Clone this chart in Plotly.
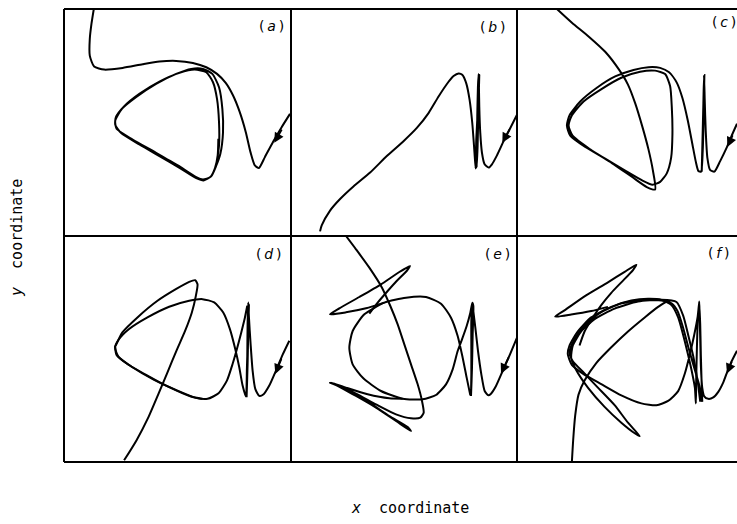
import plotly.graph_objects as go

# Digitised trajectories, one list of curve segments per panel.
# Units: x grows to the right, y grows downward, measured inside each panel frame.
PANEL_A = [
    [(690, 345), (665, 385), (640, 428), (615, 475), (597, 508), (585, 500), (572, 460), (558, 400),
     (540, 340), (520, 290), (498, 252), (472, 225), (440, 205), (400, 192), (350, 186), (300, 188),
     (250, 196), (190, 207), (135, 212), (105, 203), (92, 170), (92, 120), (97, 75), (104, 30)],
    [(470, 500), (478, 440), (478, 370), (472, 300), (460, 250), (440, 220), (405, 212), (360, 222),
     (300, 248), (240, 285), (195, 322), (170, 355), (168, 378), (185, 402), (240, 437), (300, 472),
     (360, 507), (410, 538), (432, 545), (455, 532), (470, 500), (482, 465), (490, 400), (488, 330),
     (478, 265), (458, 225), (430, 210), (395, 210), (350, 225), (290, 255), (230, 295), (188, 330),
     (168, 365), (172, 390), (220, 422), (290, 462), (355, 500), (410, 535), (430, 542), (452, 535),
     (466, 508), (474, 470), (476, 420)],
]

PANEL_B = [
    [(680, 345), (660, 385), (640, 425), (620, 468), (605, 495), (595, 505), (583, 495), (575, 460),
     (570, 400), (567, 320), (566, 260), (565, 222), (563, 260), (561, 350), (560, 440), (559, 505),
     (562, 440), (564, 340), (566, 240), (567, 225), (565, 300), (562, 400), (558, 500), (560, 430),
     (563, 330), (566, 230), (563, 320), (558, 420), (556, 508), (552, 450), (546, 370), (538, 300),
     (528, 250), (516, 224), (505, 220), (490, 228), (470, 252), (445, 290), (415, 340), (380, 385),
     (340, 425), (290, 470), (240, 520), (190, 562), (150, 600), (120, 635), (95, 680), (90, 698)],
]

PANEL_C = [
    [(666, 360), (650, 395), (635, 430), (615, 470), (598, 500), (585, 495), (577, 460), (572, 380),
     (569, 290), (567, 220), (565, 300), (562, 420), (560, 500), (563, 400), (566, 260), (568, 218),
     (566, 330), (563, 440), (558, 500), (550, 498), (542, 470), (532, 420), (518, 350), (502, 285),
     (485, 240), (462, 210), (435, 197), (400, 195), (355, 203), (300, 222), (245, 255), (195, 295),
     (163, 335), (155, 365), (165, 395), (210, 428), (270, 462), (330, 497), (380, 525), (412, 538),
     (435, 530), (455, 505), (468, 460), (472, 390), (470, 310), (465, 250), (450, 215), (420, 205),
     (375, 208), (320, 225), (260, 258), (205, 295), (170, 335), (160, 365), (172, 395), (225, 435),
     (290, 475), (350, 515), (395, 545), (420, 552), (413, 495), (400, 435), (382, 370), (360, 300),
     (338, 245), (310, 200), (270, 150), (220, 105), (170, 65), (125, 25)],
]

PANEL_D = [
    [(690, 320), (670, 362), (650, 410), (630, 455), (612, 482), (600, 486), (588, 465), (580, 410),
     (574, 330), (569, 250), (567, 205), (565, 270), (564, 370), (562, 490), (565, 390), (567, 290),
     (569, 210), (566, 300), (563, 400), (560, 488), (550, 455), (540, 400), (528, 345), (512, 285),
     (492, 235), (465, 205), (430, 195), (390, 200), (330, 218), (265, 250), (210, 285), (178, 318),
     (168, 340), (178, 368), (220, 400), (285, 438), (350, 468), (410, 492), (445, 495), (478, 478),
     (503, 440), (520, 390), (533, 345), (546, 295), (557, 250), (564, 215)],
    [(168, 335), (172, 362), (205, 390), (265, 425), (330, 460), (395, 488), (430, 495)],
    [(170, 335), (190, 295), (235, 250), (295, 200), (350, 165), (390, 143), (408, 138), (415, 150),
     (410, 185), (398, 235), (378, 290), (352, 350), (325, 415), (298, 480), (268, 550), (232, 620),
     (195, 680)],
]

PANEL_E = [
    [(683, 310), (662, 360), (640, 410), (620, 455), (605, 478), (597, 483), (586, 470), (576, 420),
     (566, 350), (558, 280), (552, 230), (549, 205), (546, 260), (546, 340), (546, 420), (545, 485),
     (548, 400), (550, 300), (552, 215), (549, 205), (543, 235), (532, 275), (518, 315), (505, 350),
     (490, 405), (470, 450), (440, 482), (400, 495), (340, 493), (275, 470), (222, 432), (190, 390),
     (180, 340), (190, 290), (225, 240), (285, 205), (350, 190), (410, 188), (455, 208), (485, 250),
     (505, 305), (520, 370), (532, 430), (543, 483)],
    [(285, 205), (230, 222), (170, 234), (122, 240), (150, 222), (210, 188), (275, 150), (330, 113),
     (362, 95), (352, 110), (322, 140), (295, 170), (265, 205), (240, 238)],
    [(170, 5), (200, 45), (240, 100), (278, 160), (303, 215), (325, 270), (345, 330), (365, 390),
     (385, 450), (398, 500), (403, 535), (393, 550), (365, 552), (320, 540), (260, 510), (200, 478),
     (150, 455), (122, 445), (140, 452), (200, 485), (260, 520), (320, 560), (365, 590), (355, 578),
     (300, 545), (240, 505), (180, 470), (125, 445), (170, 460), (235, 480), (300, 492), (340, 493)],
]

PANEL_F = [
    [(666, 335), (650, 365), (638, 392), (625, 425), (610, 452), (595, 468), (580, 472), (568, 465),
     (562, 440), (558, 380), (556, 300), (554, 230), (553, 195), (549, 240), (546, 330), (544, 420),
     (543, 485), (540, 440), (530, 390), (518, 340), (505, 290), (490, 240), (470, 205), (440, 190),
     (400, 187), (350, 192), (290, 210), (230, 240), (190, 280), (165, 320), (160, 345), (172, 375),
     (205, 400), (260, 430), (320, 462), (380, 485), (425, 490), (460, 478), (490, 450), (510, 400),
     (525, 345), (538, 290), (548, 240), (553, 200), (556, 260), (558, 350), (560, 420), (562, 480)],
    [(562, 480), (555, 440), (540, 390), (522, 330), (505, 270), (488, 222), (470, 200), (440, 192),
     (390, 190), (320, 200), (260, 225), (210, 262), (178, 305), (165, 340), (175, 365), (205, 395),
     (250, 440), (300, 490), (340, 540), (375, 578), (360, 570), (320, 540), (270, 495), (220, 440),
     (185, 390), (170, 355), (175, 320), (200, 280), (240, 245), (300, 215), (370, 195), (440, 190),
     (485, 196), (505, 235), (520, 290), (535, 350), (548, 420), (556, 480)],
    [(280, 210), (230, 222), (170, 232), (122, 238), (150, 220), (210, 180), (280, 140), (330, 110),
     (365, 90), (355, 105), (320, 140), (290, 170), (260, 205), (235, 240), (210, 280), (195, 320)],
    [(172, 655), (176, 590), (182, 520), (192, 460), (210, 420), (245, 370), (290, 325), (340, 280),
     (390, 240), (430, 210), (455, 195)],
]

PANELS = [PANEL_A, PANEL_B, PANEL_C, PANEL_D, PANEL_E, PANEL_F]
PANEL_LABELS = ["a", "b", "c", "d", "e", "f"]

# Direction arrows on the incoming branch: (tip, tail) in panel units
ARROWS = [
    ((643, 432), (668, 388)),
    ((636, 430), (660, 385)),
    ((637, 428), (655, 390)),
    ((648, 420), (668, 370)),
    ((635, 418), (660, 365)),
    ((636, 400), (652, 362)),
]

# Visible window of each panel, in panel units: (x_left, x_right, y_top, y_bottom)
WINDOWS = [
    (15, 693, 30, 712),
    (3, 680, 25, 712),
    (5, 666, 25, 688),
    (15, 695, 5, 685),
    (5, 683, 5, 683),
    (8, 666, 8, 652),
]

W, H = 737, 524
L, R, T, B = 64, 0, 9, 62
PW, PH = W - L - R, H - T - B
col_edges = [0.0, (291 - L) / PW, (517 - L) / PW, 1.0]
row_mid = (462 - 236) / PH
row_domains = [(row_mid, 1.0), (0.0, row_mid)]

fig = go.Figure()
annotations = []

for i, segs in enumerate(PANELS):
    n = "" if i == 0 else str(i + 1)
    r, c = divmod(i, 3)
    xs, ys = [], []
    for seg in segs:
        xs += [p[0] for p in seg] + [None]
        ys += [p[1] for p in seg] + [None]
    fig.add_trace(go.Scatter(
        x=xs, y=ys, mode="lines",
        line=dict(color="black", width=2.0, shape="spline", smoothing=0.6),
        xaxis="x" + n, yaxis="y" + n, hoverinfo="skip", showlegend=False,
    ))
    x0, x1, y0, y1 = WINDOWS[i]
    fig.layout["xaxis" + n] = dict(domain=[col_edges[c], col_edges[c + 1]], range=[x0, x1],
                                   visible=False, fixedrange=True, anchor="y" + n)
    fig.layout["yaxis" + n] = dict(domain=list(row_domains[r]), range=[y1, y0],
                                   visible=False, fixedrange=True, anchor="x" + n)
    (tx, ty), (ax, ay) = ARROWS[i]
    annotations.append(dict(
        x=tx, y=ty, ax=ax, ay=ay, xref="x" + n, yref="y" + n, axref="x" + n, ayref="y" + n,
        showarrow=True, arrowhead=2, arrowsize=1.1, arrowwidth=1.8, arrowcolor="black",
        standoff=0, text="",
    ))

# Panel letters, placed near each panel's upper-right corner (pixel positions)
label_pos = [(271, 26), (493, 27), (724, 22), (268, 254), (497, 254), (718, 253)]
for (px, py), lab in zip(label_pos, PANEL_LABELS):
    annotations.append(dict(
        x=(px - L) / PW, y=(H - B - py) / PH, xref="paper", yref="paper",
        text="(\u2009<i>%s</i>\u2009)" % lab, showarrow=False,
        font=dict(family="DejaVu Sans", size=14, color="black"),
        xanchor="center", yanchor="middle",
    ))

# Axis captions
annotations.append(dict(
    x=(410 - L) / PW, y=(H - B - 508) / PH, xref="paper", yref="paper",
    text="<i>x</i>\u00a0\u00a0coordinate", showarrow=False,
    font=dict(family="DejaVu Sans Mono", size=15, color="black"),
    xanchor="center", yanchor="middle",
))
annotations.append(dict(
    x=(17 - L) / PW, y=(H - B - 238) / PH, xref="paper", yref="paper",
    text="<i>y</i>\u00a0\u00a0coordinate", showarrow=False, textangle=-90,
    font=dict(family="DejaVu Sans Mono", size=15, color="black"),
    xanchor="center", yanchor="middle",
))

# Panel frame lines (right edge falls outside the page)
frame = dict(color="black", width=2)
shapes = [
    dict(type="line", xref="paper", yref="paper", x0=0, x1=1.02, y0=1, y1=1, line=frame),
    dict(type="line", xref="paper", yref="paper", x0=0, x1=1.02, y0=0, y1=0, line=frame),
    dict(type="line", xref="paper", yref="paper", x0=0, x1=1.02, y0=row_mid, y1=row_mid, line=frame),
    dict(type="line", xref="paper", yref="paper", x0=0, x1=0, y0=0, y1=1, line=frame),
    dict(type="line", xref="paper", yref="paper", x0=col_edges[1], x1=col_edges[1], y0=0, y1=1, line=frame),
    dict(type="line", xref="paper", yref="paper", x0=col_edges[2], x1=col_edges[2], y0=0, y1=1, line=frame),
]

fig.update_layout(
    width=W, height=H,
    margin=dict(l=L, r=R, t=T, b=B),
    paper_bgcolor="white", plot_bgcolor="white",
    annotations=annotations, shapes=shapes,
    showlegend=False,
)

fig.write_html("out.html", include_plotlyjs=True, config={"displayModeBar": False})
